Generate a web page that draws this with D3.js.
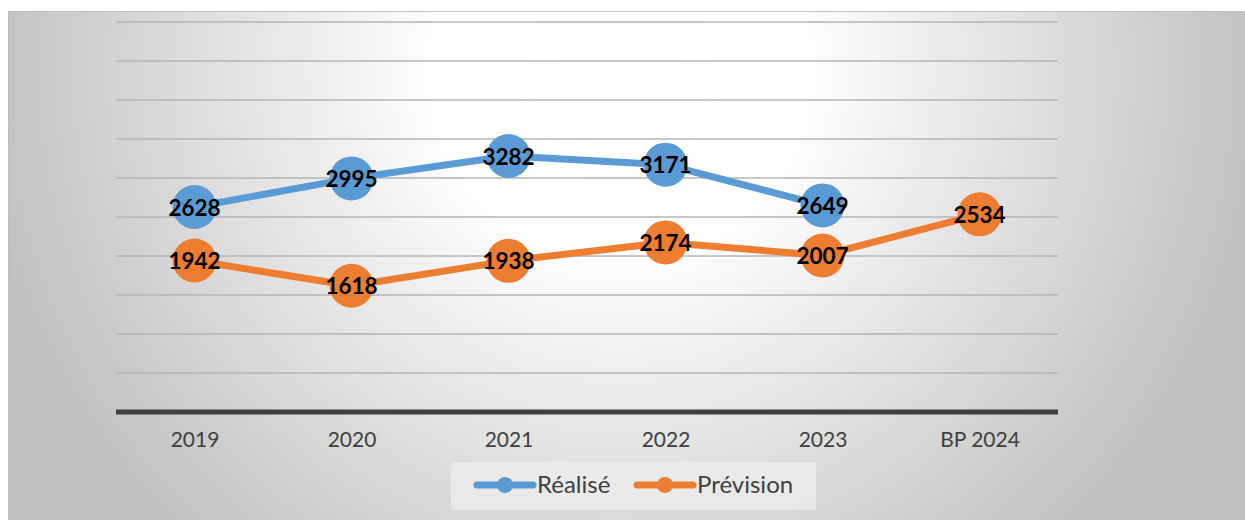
<!DOCTYPE html>
<html>
<head>
<meta charset="utf-8">
<script src="https://cdn.jsdelivr.net/npm/d3@7"></script>
<style>
  html, body { margin: 0; padding: 0; background: #ffffff; }
  svg { display: block; }
</style>
</head>
<body>
<svg id="chart" width="1245" height="520"></svg>
<script>
// Categories and series values
const categories = ["2019", "2020", "2021", "2022", "2023", "BP 2024"];
const realiseValues = [2628, 2995, 3282, 3171, 2649, null];
const previsionValues = [1942, 1618, 1938, 2174, 2007, 2534];
const seriesNames = ["Réalisé", "Prévision"];
const yTicks = [0, 500, 1000, 1500, 2000, 2500, 3000, 3500, 4000, 4500, 5000];

const colors = { "Réalisé": "#5b9bd5", "Prévision": "#ed7d31" };
const series = [
  { name: seriesNames[0], values: realiseValues },
  { name: seriesNames[1], values: previsionValues }
];

const svg = d3.select("#chart");
const font = "Lato, 'Open Sans', sans-serif";

// Background panel with a soft radial gradient, brightest near the top centre
const defs = svg.append("defs");
const grad = defs.append("radialGradient")
  .attr("id", "bg")
  .attr("gradientUnits", "userSpaceOnUse")
  .attr("cx", 620).attr("cy", 70).attr("r", 640);
grad.append("stop").attr("offset", 0).attr("stop-color", "#ffffff");
grad.append("stop").attr("offset", 0.3).attr("stop-color", "#fdfdfd");
grad.append("stop").attr("offset", 1).attr("stop-color", "#c1c1c1");

svg.append("rect")
  .attr("x", 8).attr("y", 11)
  .attr("width", 1245).attr("height", 520)
  .attr("fill", "url(#bg)");
svg.append("line")
  .attr("x1", 8).attr("x2", 1245).attr("y1", 11.5).attr("y2", 11.5)
  .attr("stroke", "#c4c4c4").attr("stroke-width", 1);
svg.append("line")
  .attr("x1", 8.5).attr("x2", 8.5).attr("y1", 11).attr("y2", 520)
  .attr("stroke", "#bdbdbd").attr("stroke-width", 1);

// Scales
const x = d3.scalePoint().domain(categories).range([116, 1058]).padding(0.5);
const y = d3.scaleLinear().domain([0, 5000]).range([412, 22]);

// Horizontal gridlines
svg.append("g")
  .selectAll("line")
  .data(yTicks.filter(d => d > 0))
  .join("line")
  .attr("x1", 116).attr("x2", 1058)
  .attr("y1", d => y(d)).attr("y2", d => y(d))
  .attr("stroke", "#b4b4b4").attr("stroke-width", 1.5);

// Category axis
const xAxis = svg.append("g")
  .attr("transform", `translate(0,${y(0)})`)
  .call(d3.axisBottom(x).tickSize(0).tickPadding(20));
xAxis.select(".domain").remove();
svg.append("line")
  .attr("x1", 116).attr("x2", 1058)
  .attr("y1", y(0)).attr("y2", y(0))
  .attr("stroke", "#404040").attr("stroke-width", 5);
xAxis.selectAll("text")
  .attr("font-family", font).attr("font-size", 21)
  .attr("fill", "#404040");

// Lines, markers and value labels
const line = d3.line()
  .defined(d => d.v != null)
  .x(d => x(d.c)).y(d => y(d.v));

series.forEach(s => {
  const pts = s.values.map((v, i) => ({ c: categories[i], v }));
  const g = svg.append("g");
  g.append("path")
    .datum(pts)
    .attr("fill", "none")
    .attr("stroke", colors[s.name])
    .attr("stroke-width", 7)
    .attr("stroke-linejoin", "round")
    .attr("d", line);
  const valid = pts.filter(d => d.v != null);
  g.selectAll("circle")
    .data(valid)
    .join("circle")
    .attr("cx", d => x(d.c)).attr("cy", d => y(d.v))
    .attr("r", 22)
    .attr("fill", colors[s.name]);
  g.selectAll("text")
    .data(valid)
    .join("text")
    .attr("x", d => x(d.c)).attr("y", d => y(d.v))
    .attr("dy", "0.38em")
    .attr("text-anchor", "middle")
    .attr("font-family", font).attr("font-weight", "bold")
    .attr("font-size", 22.5).attr("fill", "#000000")
    .text(d => d.v);
});

// Legend
const legend = svg.append("g");
legend.append("rect")
  .attr("x", 451).attr("y", 462).attr("width", 365).attr("height", 48)
  .attr("fill", "#ececec").attr("opacity", 0.8);
const legendItems = [
  { name: seriesNames[0], x0: 477 },
  { name: seriesNames[1], x0: 637 }
];
legendItems.forEach(it => {
  legend.append("line")
    .attr("x1", it.x0).attr("x2", it.x0 + 56)
    .attr("y1", 485).attr("y2", 485)
    .attr("stroke", colors[it.name]).attr("stroke-width", 7)
    .attr("stroke-linecap", "round");
  legend.append("circle")
    .attr("cx", it.x0 + 28).attr("cy", 485).attr("r", 8)
    .attr("fill", colors[it.name]);
  legend.append("text")
    .attr("x", it.x0 + 60).attr("y", 485).attr("dy", "0.35em")
    .attr("font-family", font).attr("font-size", 24)
    .attr("fill", "#404040")
    .text(it.name);
});
</script>
</body>
</html>
